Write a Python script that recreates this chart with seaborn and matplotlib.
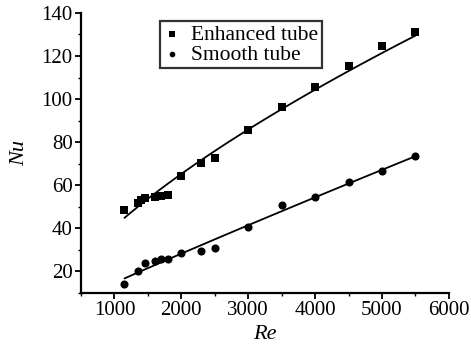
import numpy as np
import pandas as pd
import seaborn as sns
import matplotlib
matplotlib.use("Agg")
import matplotlib.pyplot as plt
from matplotlib.ticker import MultipleLocator

re_enh = [1150, 1350, 1400, 1450, 1600, 1700, 1800, 2000, 2300, 2500, 3000, 3500, 4000, 4500, 5000, 5500]
nu_enh = [48.5, 52, 53, 54, 54.5, 55, 55.5, 64.5, 70.5, 72.5, 85.5, 96.5, 105.5, 115.5, 124.5, 131]
re_smo = [1150, 1350, 1450, 1600, 1700, 1800, 2000, 2300, 2500, 3000, 3500, 4000, 4500, 5000, 5500]
nu_smo = [14, 20, 24, 25, 26, 26, 28.5, 29.5, 31, 40.5, 51, 54.5, 61.5, 66.5, 73.5]

sns.set_style("ticks")
plt.rcParams['font.family'] = ['Liberation Serif', 'DejaVu Serif']

fig = plt.figure(figsize=(4.71, 3.48), dpi=100)
ax = fig.add_axes([0.172, 0.158, 0.781, 0.805])

df_e = pd.DataFrame({"Re": re_enh, "Nu": nu_enh})
df_s = pd.DataFrame({"Re": re_smo, "Nu": nu_smo})

sns.scatterplot(data=df_e, x="Re", y="Nu", marker="s", s=34, color="black",
                edgecolor="black", linewidth=0, ax=ax, label="Enhanced tube")
sns.scatterplot(data=df_s, x="Re", y="Nu", marker="o", s=34, color="black",
                edgecolor="black", linewidth=0, ax=ax, label="Smooth tube")

for df in (df_e, df_s):
    b, a = np.polyfit(np.log(df["Re"]), np.log(df["Nu"]), 1)
    xs = np.linspace(df["Re"].min(), df["Re"].max(), 50)
    fit = pd.DataFrame({"Re": xs, "Nu": np.exp(a) * xs ** b})
    sns.lineplot(data=fit, x="Re", y="Nu", color="black", linewidth=1.3, ax=ax, legend=False)

ax.set_xlim(500, 6000)
ax.set_ylim(10, 140)
ax.xaxis.set_minor_locator(MultipleLocator(500))
ax.yaxis.set_minor_locator(MultipleLocator(10))
ax.set_xticks([1000, 2000, 3000, 4000, 5000, 6000])
ax.set_yticks([20, 40, 60, 80, 100, 120, 140])
ax.tick_params(axis="both", which="major", labelsize=15, length=4, width=1.3,
               color="black", labelcolor="black", pad=2)
ax.tick_params(axis="both", which="minor", length=2.5, width=1, color="black")
for s in ("left", "bottom"):
    ax.spines[s].set_linewidth(1.6)
    ax.spines[s].set_color("black")
sns.despine(ax=ax)

ax.set_xlabel("Re", fontsize=16, style="italic", labelpad=3, color="black")
ax.set_ylabel("Nu", fontsize=16, style="italic", labelpad=9, color="black")

leg = ax.legend(loc="upper left", bbox_to_anchor=(0.215, 0.97), fontsize=15.5, frameon=True,
                fancybox=False, edgecolor="black", handlelength=0.8, handletextpad=0.5,
                borderpad=0.15, labelspacing=0.0, markerscale=0.7, borderaxespad=0)
leg.get_frame().set_linewidth(1.6)
for t in leg.get_texts():
    t.set_color("black")

fig.savefig("out.png", dpi=100)
